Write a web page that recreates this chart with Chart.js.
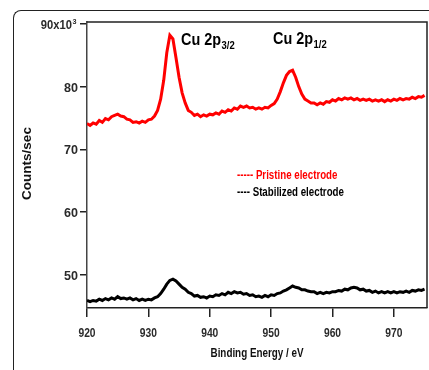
<!DOCTYPE html>
<html>
<head>
<meta charset="utf-8">
<script src="https://cdn.jsdelivr.net/npm/chart.js@4.4.1/dist/chart.umd.min.js"></script>
<style>
  html, body { margin: 0; padding: 0; background: #fff; overflow: hidden; }
  #wrap { position: relative; width: 429px; height: 370px; }
  #frame { position: absolute; left: 13px; top: 10px; width: 520px; height: 420px;
    border-left: 1.5px solid #222; border-top: 1.5px solid #222; border-top-left-radius: 8px; }
  #chart { position: absolute; left: 0; top: 0; }
</style>
</head>
<body>
<div id="wrap">
  <div id="frame"></div>
  <canvas id="chart" width="429" height="370"></canvas>
</div>
<script>
// binding energy (eV), counts/sec in units of 10^3
const pristine = [
  [920,74.1],[920.5,73.8],[921,74.2],[921.5,74.0],[922,74.6],[922.5,74.3],[923,74.9],[923.5,74.7],
  [924,75.2],[924.5,75.4],[925,75.6],[925.5,75.3],[926,75.2],[926.5,74.8],[927,74.7],[927.5,74.3],
  [928,74.4],[928.5,74.2],[929,74.5],[929.5,74.3],[930,74.7],[930.5,74.8],[931,75.3],[931.5,76.2],
  [932,78.0],[932.5,81.0],[933,85.4],[933.5,88.2],[934,87.6],[934.5,84.6],[935,81.5],[935.5,79.0],
  [936,77.4],[936.5,76.2],[937,75.9],[937.5,75.4],[938,75.6],[938.5,75.2],[939,75.5],[939.5,75.3],
  [940,75.6],[940.5,75.5],[941,75.8],[941.5,75.6],[942,76.1],[942.5,75.9],[943,76.3],[943.5,76.1],
  [944,76.6],[944.5,76.4],[945,76.9],[945.5,76.7],[946,76.9],[946.5,76.6],[947,76.7],[947.5,76.4],
  [948,76.6],[948.5,76.4],[949,76.7],[949.5,76.6],[950,77.0],[950.5,77.3],[951,78.0],[951.5,79.2],
  [952,80.6],[952.5,81.8],[953,82.4],[953.5,82.6],[954,81.5],[954.5,80.0],[955,78.8],[955.5,78.0],
  [956,77.7],[956.5,77.4],[957,77.4],[957.5,77.1],[958,77.4],[958.5,77.2],[959,77.6],[959.5,77.5],
  [960,77.9],[960.5,77.7],[961,78.1],[961.5,77.9],[962,78.2],[962.5,78.0],[963,78.2],[963.5,77.9],
  [964,78.1],[964.5,77.8],[965,78.0],[965.5,77.8],[966,78.0],[966.5,77.7],[967,77.9],[967.5,77.7],
  [968,77.9],[968.5,77.6],[969,77.9],[969.5,77.7],[970,78.0],[970.5,77.8],[971,78.1],[971.5,77.9],
  [972,78.1],[972.5,78.0],[973,78.3],[973.5,78.1],[974,78.4],[974.5,78.3],[975,78.6]
];
const stabilized = [
  [920,45.9],[920.5,45.7],[921,45.9],[921.5,45.8],[922,46.1],[922.5,45.9],[923,46.2],[923.5,46.0],
  [924,46.3],[924.5,46.1],[925,46.5],[925.5,46.2],[926,46.3],[926.5,46.1],[927,46.3],[927.5,46.0],
  [928,46.2],[928.5,45.9],[929,46.1],[929.5,45.9],[930,46.1],[930.5,46.0],[931,46.3],[931.5,46.5],
  [932,47.0],[932.5,47.7],[933,48.5],[933.5,49.1],[934,49.3],[934.5,49.0],[935,48.5],[935.5,48.0],
  [936,47.7],[936.5,47.2],[937,47.0],[937.5,46.6],[938,46.7],[938.5,46.4],[939,46.5],[939.5,46.3],
  [940,46.6],[940.5,46.5],[941,46.8],[941.5,46.7],[942,47.0],[942.5,46.8],[943,47.2],[943.5,47.0],
  [944,47.3],[944.5,47.1],[945,47.2],[945.5,46.9],[946,47.0],[946.5,46.7],[947,46.8],[947.5,46.5],
  [948,46.6],[948.5,46.4],[949,46.7],[949.5,46.5],[950,46.8],[950.5,46.7],[951,47.0],[951.5,47.1],
  [952,47.4],[952.5,47.6],[953,47.9],[953.5,48.2],[954,48.0],[954.5,47.9],[955,47.6],[955.5,47.6],
  [956,47.4],[956.5,47.3],[957,47.3],[957.5,47.0],[958,47.2],[958.5,47.0],[959,47.2],[959.5,47.1],
  [960,47.3],[960.5,47.3],[961,47.5],[961.5,47.4],[962,47.7],[962.5,47.6],[963,47.9],[963.5,48.0],
  [964,47.9],[964.5,47.6],[965,47.7],[965.5,47.4],[966,47.5],[966.5,47.2],[967,47.4],[967.5,47.1],
  [968,47.3],[968.5,47.1],[969,47.3],[969.5,47.1],[970,47.3],[970.5,47.1],[971,47.3],[971.5,47.2],
  [972,47.4],[972.5,47.2],[973,47.5],[973.5,47.4],[974,47.6],[974.5,47.5],[975,47.7]
];
const xTicks = [920, 930, 940, 950, 960, 970];
const yTicks = [50, 60, 70, 80, 90];
const seriesNames = ["Pristine electrode", "Stabilized electrode"];
const peakLabels = [
  { x: 181, y: 45, main: "Cu 2p", sub: "3/2" },
  { x: 273, y: 44, main: "Cu 2p", sub: "1/2" }
];

const SANS = '"Liberation Sans", Arial, sans-serif';
const toXY = (arr) => arr.map(p => ({ x: p[0], y: p[1] }));

// text squeezed horizontally to mimic the condensed face of the original
function squeezed(ctx, txt, x, y, font, sx, align, color) {
  ctx.save();
  ctx.font = font;
  ctx.fillStyle = color;
  const w = ctx.measureText(txt).width * sx;
  let left = x;
  if (align === "center") left = x - w / 2;
  else if (align === "right") left = x - w;
  ctx.translate(left, y);
  ctx.scale(sx, 1);
  ctx.textAlign = "left";
  ctx.fillText(txt, 0, 0);
  ctx.restore();
  return w;
}

const textPlugin = {
  id: "texts",
  afterDraw(chart) {
    const ctx = chart.ctx;
    const a = chart.chartArea;
    const xs = chart.scales.x, ys = chart.scales.y;
    ctx.save();
    ctx.strokeStyle = "#222";
    ctx.lineWidth = 1.5;
    ctx.beginPath();
    ctx.moveTo(a.left, a.top);
    ctx.lineTo(a.right, a.top);
    ctx.lineTo(a.right, a.bottom);
    ctx.stroke();
    ctx.textBaseline = "alphabetic";

    // tick labels
    const tf = "bold 13.5px " + SANS;
    xTicks.forEach(v => squeezed(ctx, String(v), xs.getPixelForValue(v), 336.5, tf, 0.76, "center", "#2a2a2a"));
    yTicks.forEach(v => {
      const py = ys.getPixelForValue(v) + 5;
      if (v === 90) {
        squeezed(ctx, "90x10", 72, py, tf, 0.83, "right", "#2a2a2a");
        squeezed(ctx, "3", 72.5, py - 5, "bold 8px " + SANS, 0.9, "left", "#2a2a2a");
      } else {
        squeezed(ctx, String(v), 78, py, tf, 0.93, "right", "#2a2a2a");
      }
    });

    // peak labels
    peakLabels.forEach(l => {
      const w = squeezed(ctx, l.main, l.x, l.y, "bold 16px " + SANS, 0.9, "left", "#000");
      squeezed(ctx, l.sub, l.x + w + 0.5, l.y + 4, "bold 10.5px " + SANS, 0.9, "left", "#000");
    });

    // legend
    squeezed(ctx, "----- " + seriesNames[0], 237, 179, "bold 12px " + SANS, 0.81, "left", "#f00");
    squeezed(ctx, "---- " + seriesNames[1], 237, 196, "bold 12px " + SANS, 0.81, "left", "#000");

    // axis titles
    squeezed(ctx, "Binding Energy / eV", 257, 357, "bold 12px " + SANS, 0.82, "center", "#111");
    ctx.translate(31, 163.5);
    ctx.rotate(-Math.PI / 2);
    squeezed(ctx, "Counts/sec", 0, 0, "bold 13.5px " + SANS, 1, "center", "#111");
    ctx.restore();
  }
};

new Chart(document.getElementById("chart"), {
  type: "line",
  data: {
    datasets: [
      { label: seriesNames[0], data: toXY(pristine), borderColor: "#ff0000", borderWidth: 3, pointRadius: 0, tension: 0 },
      { label: seriesNames[1], data: toXY(stabilized), borderColor: "#000000", borderWidth: 3, pointRadius: 0, tension: 0 }
    ]
  },
  options: {
    responsive: false,
    animation: false,
    layout: { padding: { left: 0, top: 22, right: 2, bottom: 0 } },
    plugins: { legend: { display: false }, tooltip: { enabled: false } },
    scales: {
      x: {
        type: "linear", min: 920, max: 975.4,
        afterBuildTicks: (s) => { s.ticks = xTicks.map(v => ({ value: v })); },
        afterFit: (s) => { s.height = 62; },
        grid: { drawOnChartArea: false, drawTicks: true, tickLength: 9, color: "#222", lineWidth: 1.5 },
        border: { display: true, color: "#222", width: 1.5 },
        ticks: { color: "rgba(0,0,0,0)", padding: 8, maxRotation: 0, font: { family: SANS, size: 13, weight: "bold" } }
      },
      y: {
        min: 44.7, max: 90.3,
        afterBuildTicks: (s) => { s.ticks = yTicks.map(v => ({ value: v })); },
        afterFit: (s) => { s.width = 87; },
        grid: { drawOnChartArea: false, drawTicks: true, tickLength: 7, color: "#222", lineWidth: 1.5 },
        border: { display: true, color: "#444", width: 1.5 },
        ticks: { color: "rgba(0,0,0,0)", padding: 3, font: { family: SANS, size: 13, weight: "bold" } }
      }
    }
  },
  plugins: [textPlugin]
});
</script>
</body>
</html>
